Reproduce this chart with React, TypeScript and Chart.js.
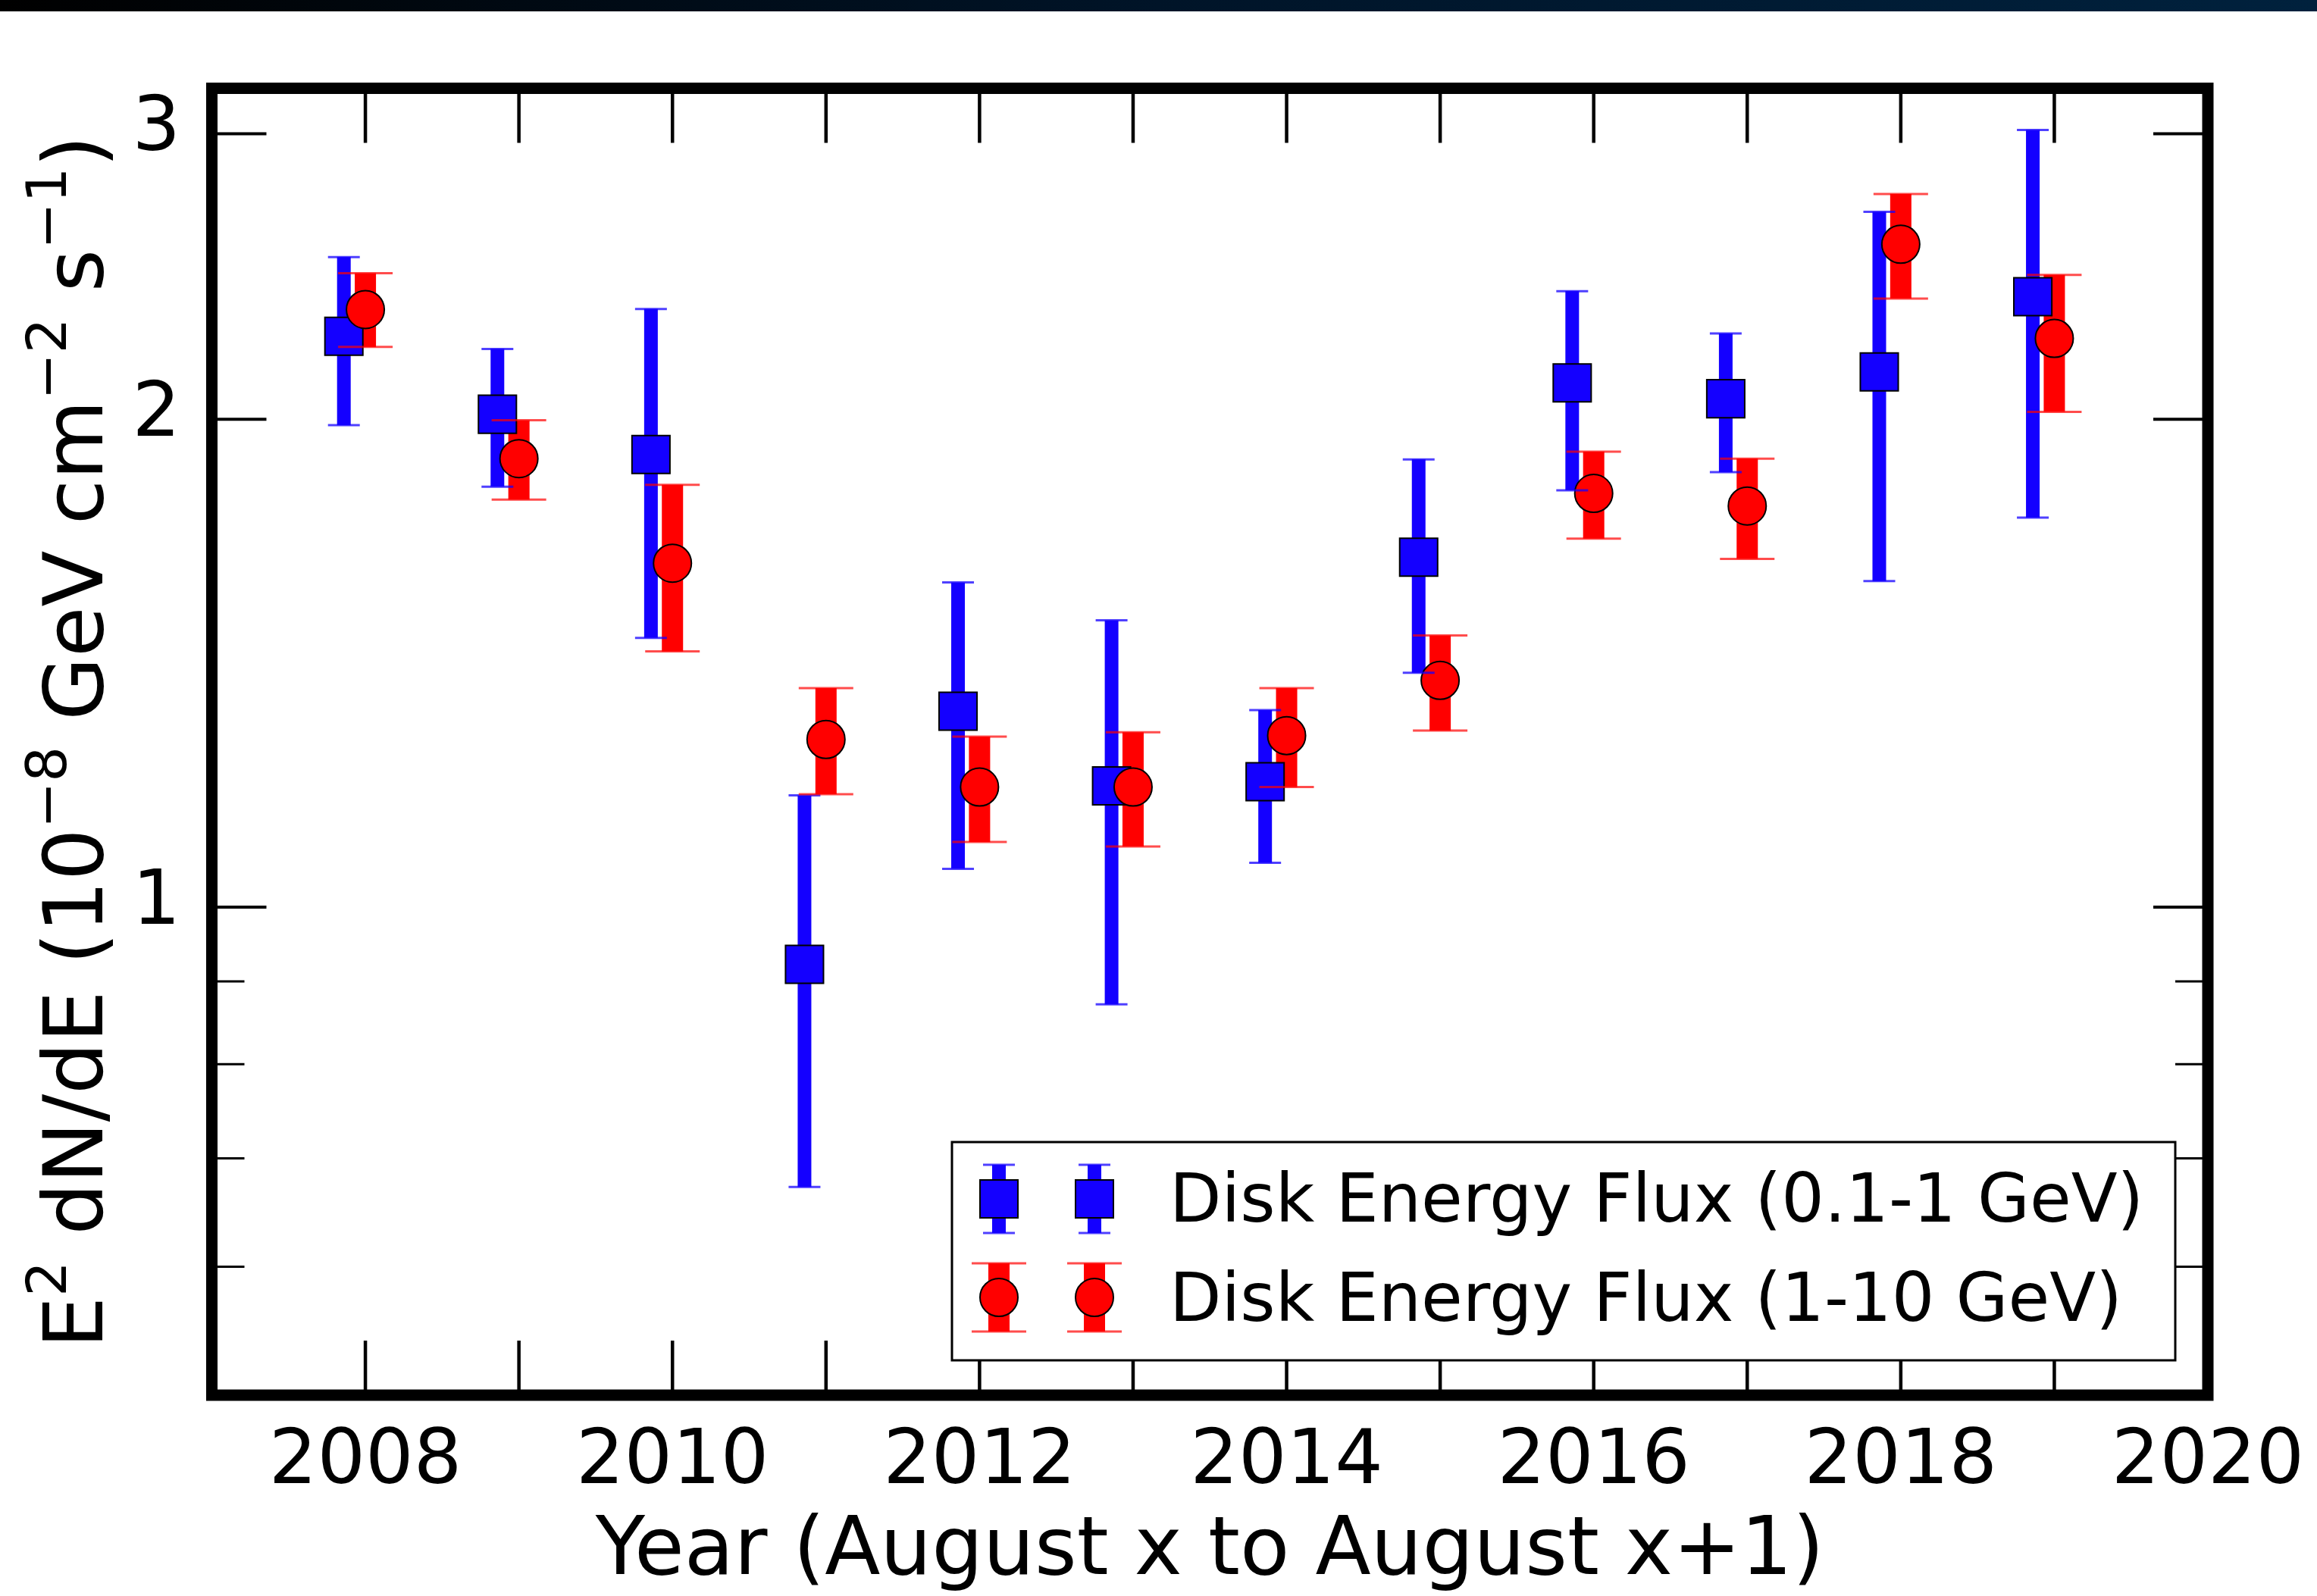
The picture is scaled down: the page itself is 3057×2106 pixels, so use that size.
import React, { useEffect, useRef } from 'react';
import { Chart, registerables } from 'chart.js';

Chart.register(...registerables);

// ---------- data ----------
const years = [2008, 2009, 2010, 2011, 2012, 2013, 2014, 2015, 2016, 2017, 2018, 2019];
const lowBandXOffset = -0.14;
const lowBandValue = [2.25, 2.014, 1.902, 0.922, 1.321, 1.188, 1.195, 1.644, 2.106, 2.059, 2.139, 2.38];
const lowBandUpper = [2.518, 2.21, 2.339, 1.172, 1.586, 1.503, 1.323, 1.889, 2.399, 2.259, 2.685, 3.016];
const lowBandLower = [1.983, 1.817, 1.466, 0.672, 1.056, 0.871, 1.065, 1.395, 1.808, 1.855, 1.589, 1.739];
const highBandValue = [2.337, 1.891, 1.63, 1.269, 1.186, 1.186, 1.276, 1.38, 1.8, 1.768, 2.564, 2.243];
const highBandUpper = [2.461, 1.997, 1.822, 1.365, 1.274, 1.282, 1.365, 1.471, 1.91, 1.891, 2.754, 2.455];
const highBandLower = [2.216, 1.784, 1.438, 1.174, 1.097, 1.09, 1.186, 1.285, 1.688, 1.64, 2.374, 2.021];

const xTickLabels = [2008, 2010, 2012, 2014, 2016, 2018, 2020];
const xTickMarks = [2008, 2009, 2010, 2011, 2012, 2013, 2014, 2015, 2016, 2017, 2018, 2019];
const yMajorTicks = [1, 2, 3];
const yMinorTicks = [0.6, 0.7, 0.8, 0.9];

const lowLabel = 'Disk Energy Flux (0.1-1 GeV)';
const highLabel = 'Disk Energy Flux (1-10 GeV)';
const xTitle = 'Year (August x to August x+1)';
const yTitleParts: { t: string; sup?: boolean }[] = [
  { t: 'E' }, { t: '2', sup: true }, { t: ' dN/dE (10' }, { t: '\u22128', sup: true },
  { t: ' GeV cm' }, { t: '\u22122', sup: true }, { t: ' s' }, { t: '\u22121', sup: true }, { t: ')' },
];

// ---------- style ----------
const W = 3057;
const H = 2106;
const BLUE = '#1400ff';
const RED = '#ff0000';
const FONT = '"DejaVu Sans", Verdana, sans-serif';

export default function App() {
  const ref = useRef<HTMLCanvasElement | null>(null);

  useEffect(() => {
    document.body.style.margin = '0';
    const canvas = ref.current;
    if (!canvas) return;

    const drawErrBars = (chart: any, caps: boolean) => {
      const { ctx } = chart;
      const xs = chart.scales.x;
      const ys = chart.scales.y;
      const series = [
        { off: lowBandXOffset, up: lowBandUpper, lo: lowBandLower, color: BLUE, capColor: 'rgba(20,0,255,0.75)', bw: 18, cw: 42 },
        { off: 0, up: highBandUpper, lo: highBandLower, color: RED, capColor: 'rgba(255,0,0,0.7)', bw: 28, cw: 72 },
      ];
      ctx.save();
      for (const s of series) {
        years.forEach((yr, i) => {
          const px = xs.getPixelForValue(yr + s.off);
          const pTop = ys.getPixelForValue(s.up[i]);
          const pBot = ys.getPixelForValue(s.lo[i]);
          if (!caps) {
            ctx.fillStyle = s.color;
            ctx.fillRect(px - s.bw / 2, pTop, s.bw, pBot - pTop);
          } else {
            ctx.strokeStyle = s.capColor;
            ctx.lineWidth = 3;
            ctx.beginPath();
            ctx.moveTo(px - s.cw / 2, pTop);
            ctx.lineTo(px + s.cw / 2, pTop);
            ctx.moveTo(px - s.cw / 2, pBot);
            ctx.lineTo(px + s.cw / 2, pBot);
            ctx.stroke();
          }
        });
      }
      ctx.restore();
    };

    const framePlugin = {
      id: 'frame',
      beforeDraw(chart: any) {
        const { ctx } = chart;
        ctx.save();
        ctx.fillStyle = '#ffffff';
        ctx.fillRect(0, 0, W, H);
        const g = ctx.createLinearGradient(0, 0, W, 0);
        g.addColorStop(0, '#000000');
        g.addColorStop(0.5, '#001428');
        g.addColorStop(1, '#00213d');
        ctx.fillStyle = g;
        ctx.fillRect(0, 0, W, 15);
        ctx.restore();
      },
      beforeDatasetsDraw(chart: any) {
        drawErrBars(chart, false);
      },
      afterDatasetsDraw(chart: any) {
        drawErrBars(chart, true);
      },
      afterDraw(chart: any) {
        const { ctx, chartArea: a } = chart;
        const xs = chart.scales.x;
        const ys = chart.scales.y;
        ctx.save();
        ctx.strokeStyle = '#000';
        // ticks
        const majLen = 72;
        const minLen = 43;
        ctx.lineWidth = 4.5;
        ctx.beginPath();
        for (const t of xTickMarks) {
          const px = xs.getPixelForValue(t);
          ctx.moveTo(px, a.top);
          ctx.lineTo(px, a.top + majLen);
          ctx.moveTo(px, a.bottom);
          ctx.lineTo(px, a.bottom - majLen);
        }
        ctx.stroke();
        ctx.lineWidth = 4;
        ctx.beginPath();
        for (const t of yMajorTicks) {
          const py = ys.getPixelForValue(t);
          ctx.moveTo(a.left, py);
          ctx.lineTo(a.left + majLen, py);
          ctx.moveTo(a.right, py);
          ctx.lineTo(a.right - majLen, py);
        }
        ctx.stroke();
        ctx.lineWidth = 3;
        ctx.beginPath();
        for (const t of yMinorTicks) {
          const py = ys.getPixelForValue(t);
          ctx.moveTo(a.left, py);
          ctx.lineTo(a.left + minLen, py);
          ctx.moveTo(a.right, py);
          ctx.lineTo(a.right - minLen, py);
        }
        ctx.stroke();
        // spines
        ctx.lineWidth = 15;
        ctx.strokeRect(a.left, a.top, a.right - a.left, a.bottom - a.top);

        // tick labels
        ctx.fillStyle = '#000';
        ctx.font = `100px ${FONT}`;
        ctx.textAlign = 'center';
        ctx.textBaseline = 'alphabetic';
        for (const t of xTickLabels) {
          ctx.fillText(String(t), xs.getPixelForValue(t), 1957);
        }
        ctx.textAlign = 'right';
        ctx.textBaseline = 'middle';
        for (const t of yMajorTicks) {
          ctx.fillText(String(t), 238, ys.getPixelForValue(t) - 4);
        }

        // x title
        ctx.font = `107px ${FONT}`;
        ctx.textAlign = 'center';
        ctx.textBaseline = 'alphabetic';
        ctx.fillText(xTitle, (a.left + a.right) / 2, 2077);

        // y title (rotated, with superscripts)
        const F = 108;
        const SF = 0.68 * F;
        ctx.save();
        ctx.translate(135, (a.top + a.bottom) / 2);
        ctx.rotate(-Math.PI / 2);
        ctx.textAlign = 'left';
        let total = 0;
        for (const p of yTitleParts) {
          ctx.font = `${p.sup ? SF : F}px ${FONT}`;
          total += ctx.measureText(p.t).width;
        }
        let cx = -total / 2;
        for (const p of yTitleParts) {
          ctx.font = `${p.sup ? SF : F}px ${FONT}`;
          ctx.fillText(p.t, cx, p.sup ? -0.44 * F : 0);
          cx += ctx.measureText(p.t).width;
        }
        ctx.restore();

        // legend
        const lx = 1256, ly = 1507, lw = 2870 - 1256, lh = 1795 - 1507;
        ctx.fillStyle = '#fff';
        ctx.fillRect(lx, ly, lw, lh);
        ctx.lineWidth = 3;
        ctx.strokeStyle = '#000';
        ctx.strokeRect(lx, ly, lw, lh);
        const mxs = [1318, 1444];
        const rows = [
          { y: 1582, color: BLUE, capColor: 'rgba(20,0,255,0.75)', bw: 18, cw: 42, shape: 'rect', label: lowLabel, base: 1612 },
          { y: 1712, color: RED, capColor: 'rgba(255,0,0,0.7)', bw: 28, cw: 72, shape: 'circle', label: highLabel, base: 1743 },
        ];
        for (const r of rows) {
          for (const mx of mxs) {
            ctx.fillStyle = r.color;
            ctx.fillRect(mx - r.bw / 2, r.y - 45, r.bw, 90);
            ctx.strokeStyle = r.capColor;
            ctx.lineWidth = 3;
            ctx.beginPath();
            ctx.moveTo(mx - r.cw / 2, r.y - 45);
            ctx.lineTo(mx + r.cw / 2, r.y - 45);
            ctx.moveTo(mx - r.cw / 2, r.y + 45);
            ctx.lineTo(mx + r.cw / 2, r.y + 45);
            ctx.stroke();
            ctx.fillStyle = r.color;
            ctx.strokeStyle = '#000';
            ctx.lineWidth = 2;
            ctx.beginPath();
            if (r.shape === 'rect') {
              ctx.rect(mx - 25, r.y - 25, 50, 50);
            } else {
              ctx.arc(mx, r.y, 25, 0, Math.PI * 2);
            }
            ctx.fill();
            ctx.stroke();
          }
          ctx.fillStyle = '#000';
          ctx.font = `89px ${FONT}`;
          ctx.textAlign = 'left';
          ctx.textBaseline = 'alphabetic';
          ctx.fillText(r.label, 1543, r.base);
        }
        ctx.restore();
      },
    };

    const chart = new Chart(canvas, {
      type: 'scatter',
      data: {
        datasets: [
          {
            label: highLabel,
            data: years.map((yr, i) => ({ x: yr, y: highBandValue[i] })),
            pointStyle: 'circle',
            pointRadius: 25,
            pointBackgroundColor: RED,
            pointBorderColor: '#000',
            pointBorderWidth: 2,
            order: 0,
          },
          {
            label: lowLabel,
            data: years.map((yr, i) => ({ x: yr + lowBandXOffset, y: lowBandValue[i] })),
            pointStyle: 'rect',
            pointRadius: 35.4,
            pointBackgroundColor: BLUE,
            pointBorderColor: '#000',
            pointBorderWidth: 2,
            order: 1,
          },
        ],
      },
      options: {
        responsive: false,
        animation: false,
        devicePixelRatio: 1,
        events: [],
        layout: { padding: { left: 279.5, right: W - 2913, top: 116.5, bottom: H - 1841 } },
        plugins: { legend: { display: false }, tooltip: { enabled: false } },
        scales: {
          x: { type: 'linear', min: 2007, max: 2020, display: false },
          y: { type: 'logarithmic', min: 0.5, max: 3.2, display: false },
        },
      },
      plugins: [framePlugin],
    });

    return () => chart.destroy();
  }, []);

  return <canvas ref={ref} width={W} height={H} style={{ display: 'block' }} />;
}
